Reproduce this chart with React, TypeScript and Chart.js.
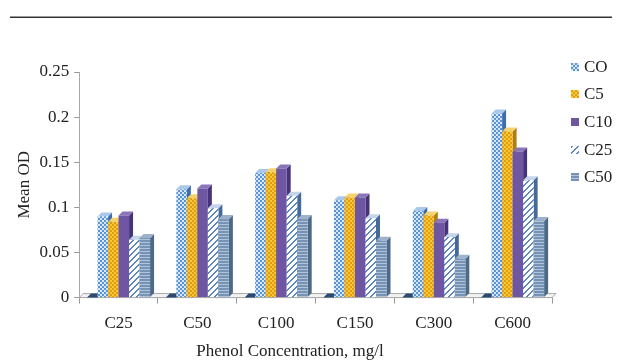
import React, { useEffect, useRef, useMemo } from 'react';
import { Chart, registerables } from 'chart.js';
Chart.register(...registerables);

const categories = ['C25', 'C50', 'C100', 'C150', 'C300', 'C600'];
const seriesNames = ['CO', 'C5', 'C10', 'C25', 'C50'];
const baseSeries = [0, 0, 0, 0, 0, 0];
const seriesCO = [0.090, 0.120, 0.138, 0.108, 0.096, 0.204];
const seriesC5 = [0.084, 0.110, 0.139, 0.111, 0.091, 0.184];
const seriesC10 = [0.091, 0.121, 0.143, 0.111, 0.083, 0.162];
const seriesC25 = [0.064, 0.099, 0.113, 0.088, 0.067, 0.130];
const seriesC50 = [0.066, 0.087, 0.087, 0.063, 0.043, 0.085];
const yMin = 0;
const yMax = 0.25;
const yStep = 0.05;
const yAxisTitle = 'Mean OD';
const xAxisTitle = 'Phenol Concentration, mg/l';

const FONT = "'Liberation Serif', serif";
const DEPTH = 4;

type TileKind = 'base' | 'check' | 'gold' | 'purple' | 'diag' | 'hstripe';
const tileKinds: TileKind[] = ['base', 'check', 'gold', 'purple', 'diag', 'hstripe'];
const sideColors = ['#1F3556', '#3E6DA8', '#B07D10', '#46337A', '#47699A', '#4D6985'];
const topColors = ['#2C4A70', '#A9C8EA', '#F5D36A', '#8A75BA', '#C5D6EA', '#9DB2CA'];

function makeTile(kind: TileKind): HTMLCanvasElement {
  const c = document.createElement('canvas');
  const g = c.getContext('2d')!;
  if (kind === 'base') {
    c.width = 2; c.height = 2;
    g.fillStyle = '#27446A'; g.fillRect(0, 0, 2, 2);
  } else if (kind === 'check') {
    c.width = 4; c.height = 4;
    g.fillStyle = '#D8E7F6'; g.fillRect(0, 0, 4, 4);
    g.fillStyle = '#5A94D4'; g.fillRect(0, 0, 2, 2); g.fillRect(2, 2, 2, 2);
  } else if (kind === 'gold') {
    c.width = 4; c.height = 4;
    g.fillStyle = '#F5C93A'; g.fillRect(0, 0, 4, 4);
    g.fillStyle = '#E39B12'; g.fillRect(0, 0, 2, 2); g.fillRect(2, 2, 2, 2);
  } else if (kind === 'purple') {
    c.width = 2; c.height = 2;
    g.fillStyle = '#6E56A2'; g.fillRect(0, 0, 2, 2);
  } else if (kind === 'diag') {
    c.width = 6; c.height = 6;
    for (let y = 0; y < 6; y++) {
      for (let x = 0; x < 6; x++) {
        g.fillStyle = (x + y) % 6 < 2 ? '#5A87C2' : '#FFFFFF';
        g.fillRect(x, y, 1, 1);
      }
    }
  } else {
    c.width = 3; c.height = 3;
    g.fillStyle = '#7693B5'; g.fillRect(0, 0, 3, 2);
    g.fillStyle = '#AFC3D9'; g.fillRect(0, 2, 3, 1);
  }
  return c;
}

function fmtTick(v: number): string {
  return String(Math.round(v * 1000) / 1000);
}

export default function App() {
  const ref = useRef<HTMLCanvasElement>(null);
  const tiles = useMemo(() => tileKinds.map(k => makeTile(k)), []);

  useEffect(() => {
    const canvas = ref.current!;
    const ctx = canvas.getContext('2d')!;
    const pats = tiles.map(t => ctx.createPattern(t, 'repeat')!);
    const allSeries = [baseSeries, seriesCO, seriesC5, seriesC10, seriesC25, seriesC50];
    const names = ['', ...seriesNames];

    const bars3d = {
      id: 'bars3d',
      beforeDatasetsDraw(chart: any) {
        const c = chart.ctx as CanvasRenderingContext2D;
        const a = chart.chartArea;
        const d = DEPTH;
        c.save();
        c.beginPath();
        c.moveTo(a.left, a.bottom);
        c.lineTo(a.left + d, a.bottom - d);
        c.lineTo(a.right + d, a.bottom - d);
        c.lineTo(a.right, a.bottom);
        c.closePath();
        c.fillStyle = '#F3F3F3';
        c.fill();
        c.strokeStyle = '#A8A8A8';
        c.lineWidth = 1;
        c.stroke();
        const metas = chart.data.datasets.map((_: any, i: number) => chart.getDatasetMeta(i));
        const n = chart.data.labels.length;
        for (let j = 0; j < n; j++) {
          for (let i = 0; i < metas.length; i++) {
            const bar = metas[i].data[j];
            if (!bar) continue;
            const p = bar.getProps(['x', 'y', 'base', 'width'], true);
            const l = p.x - p.width / 2;
            const r = p.x + p.width / 2;
            c.beginPath();
            c.moveTo(r, p.y);
            c.lineTo(r + d, p.y - d);
            c.lineTo(r + d, p.base - d);
            c.lineTo(r, p.base);
            c.closePath();
            c.fillStyle = sideColors[i];
            c.fill();
            c.beginPath();
            c.moveTo(l, p.y);
            c.lineTo(l + d, p.y - d);
            c.lineTo(r + d, p.y - d);
            c.lineTo(r, p.y);
            c.closePath();
            c.fillStyle = topColors[i];
            c.fill();
            bar.draw(c);
          }
        }
        c.restore();
        return false;
      },
    };

    const chart = new Chart(canvas, {
      type: 'bar',
      data: {
        labels: categories,
        datasets: allSeries.map((s, i) => ({
          label: names[i],
          data: s,
          backgroundColor: pats[i],
          borderWidth: 0,
          barPercentage: 1,
          categoryPercentage: 0.8,
        })),
      },
      options: {
        responsive: true,
        maintainAspectRatio: false,
        animation: false,
        layout: { padding: { left: 14, right: 65, top: 72, bottom: 18 } },
        plugins: {
          legend: { display: false },
          tooltip: { enabled: false },
        },
        scales: {
          x: {
            offset: true,
            grid: { offset: true, drawOnChartArea: false, drawTicks: true, tickLength: 6, color: '#999999' },
            border: { color: '#A8A8A8' },
            ticks: { font: { family: FONT, size: 17 }, color: '#222222', padding: 10 },
          },
          y: {
            min: yMin,
            max: yMax,
            grid: { drawOnChartArea: false, drawTicks: true, tickLength: 5, color: '#999999' },
            border: { color: '#A8A8A8' },
            ticks: { stepSize: yStep, font: { family: FONT, size: 17 }, color: '#222222', padding: 5, callback: (v: any) => fmtTick(Number(v)) },
            title: { display: true, text: yAxisTitle, font: { family: FONT, size: 17 }, color: '#222222', padding: { top: 0, bottom: 0 } },
          },
        },
      },
      plugins: [bars3d],
    } as any);
    return () => chart.destroy();
  }, [tiles]);

  const legendTop = [67, 94, 122, 150, 177];

  return (
    <div style={{ position: 'fixed', left: 0, top: 0, width: 617, height: 362, background: '#ffffff' }}>
      <div style={{ position: 'absolute', left: 10, top: 16, width: 602, height: 1, background: '#9A9A9A' }} />
      <div style={{ position: 'absolute', left: 10, top: 17, width: 602, height: 1, background: '#333333' }} />
      <div style={{ position: 'absolute', left: 0, top: 0, width: 617, height: 362 }}>
        <canvas ref={ref} />
      </div>
      <div style={{ position: 'absolute', left: 90, width: 400, top: 340, height: 22, lineHeight: '22px', textAlign: 'center', fontFamily: FONT, fontSize: 17, color: '#222' }}>
        {xAxisTitle}
      </div>
      {seriesNames.map((name, i) => (
        <div key={name} style={{ position: 'absolute', left: 571, top: legendTop[i] - 10, height: 20, display: 'flex', alignItems: 'center', fontFamily: FONT, fontSize: 17, color: '#222' }}>
          <div style={{ width: 8, height: 8, marginRight: 5, backgroundImage: `url(${tiles[i + 1].toDataURL()})` }} />
          <span>{name}</span>
        </div>
      ))}
    </div>
  );
}
